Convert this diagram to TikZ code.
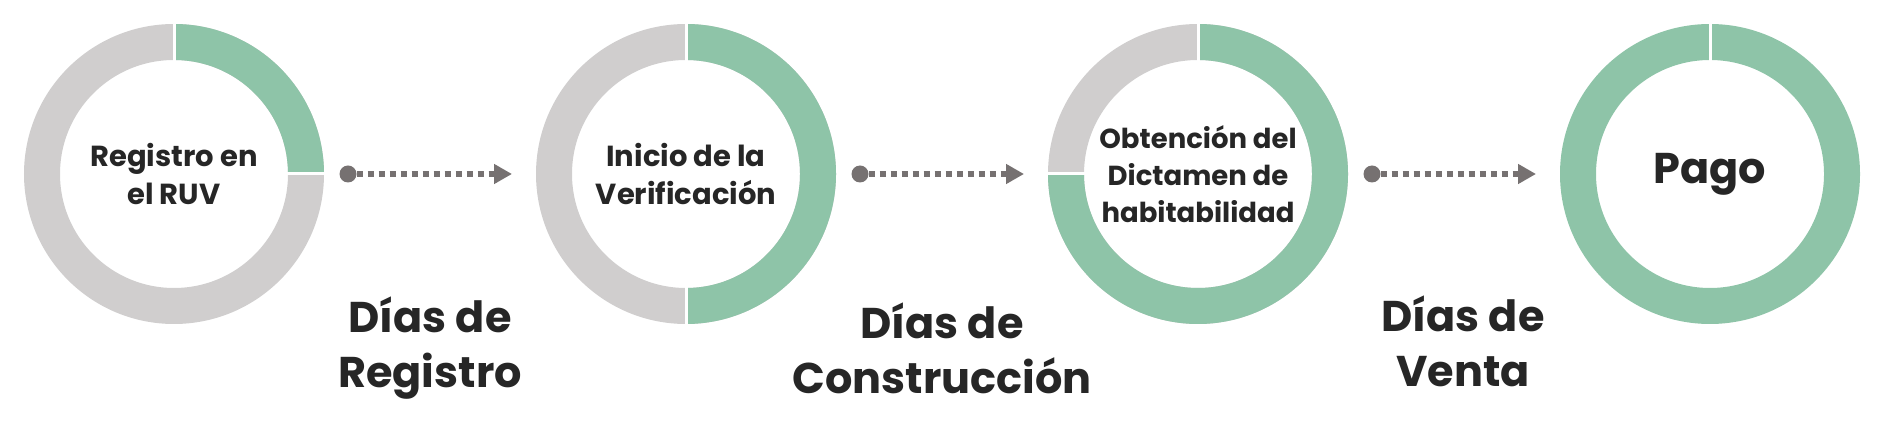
\documentclass[tikz,border=0pt]{standalone}
\usepackage{fontspec}
\setmainfont{Poppins}
\usetikzlibrary{arrows.meta}
\usetikzlibrary{positioning}

\definecolor{ringgray}{HTML}{D0CECE}
\definecolor{ringgreen}{HTML}{8EC4A8}
\definecolor{arrowgray}{HTML}{767171}
\definecolor{textdark}{HTML}{262626}

\tikzset{
	ring/.style={line width=36pt, ringgray},
	done/.style={line width=36pt, ringgreen},
	cut/.style={line width=3pt, white},
	stage/.style={align=center, text=textdark, inner sep=0pt, font=\bfseries\fontsize{29}{38.5}\selectfont},
	period/.style={align=center, text=textdark, inner sep=0pt, font=\bfseries\fontsize{43}{55}\selectfont},
	dotstart/.style={circle, fill=arrowgray, minimum size=17pt, inner sep=0pt},
	flow/.style={arrowgray, line width=6pt, dash pattern=on 6pt off 5pt, -{Triangle[length=18pt,width=19pt]}},
}

\begin{document}
\begin{tikzpicture}[x=1pt, y=1pt]
		\useasboundingbox (0,0) rectangle (1884,428);
		% etapas
		\node[stage] (s1) at (174,254) {Registro en\\el RUV};
		\node[stage] (s2) at (686,254) {Inicio de la\\Verificación};
		\node[stage, font=\bfseries\fontsize{27.5}{37}\selectfont] (s3) at (1198,254) {Obtención del\\Dictamen de\\habitabilidad};
		\node[stage, font=\bfseries\fontsize{43}{43}\selectfont] (s4) at (1710,254) {Pago};
		% anillos
		\draw[ring] (s1.center) circle[radius=132pt];
		\draw[done] (s1.center) ++(90:132pt) arc[start angle=90, end angle=0, radius=132pt];
		\draw[cut] (s1.center) ++(90:110pt) -- ++(90:44pt);
		\draw[cut] (s1.center) ++(0:110pt) -- ++(0:44pt);
		\draw[ring] (s2.center) circle[radius=132pt];
		\draw[done] (s2.center) ++(90:132pt) arc[start angle=90, end angle=-90, radius=132pt];
		\draw[cut] (s2.center) ++(90:110pt) -- ++(90:44pt);
		\draw[cut] (s2.center) ++(-90:110pt) -- ++(-90:44pt);
		\draw[ring] (s3.center) circle[radius=132pt];
		\draw[done] (s3.center) ++(90:132pt) arc[start angle=90, end angle=-180, radius=132pt];
		\draw[cut] (s3.center) ++(90:110pt) -- ++(90:44pt);
		\draw[cut] (s3.center) ++(180:110pt) -- ++(180:44pt);
		\draw[done] (s4.center) circle[radius=132pt];
		\draw[cut] (s4.center) ++(90:110pt) -- ++(90:44pt);
		% flechas
		\node[dotstart] (d1) at (348,254) {};
		\node[dotstart] (d2) at (860,254) {};
		\node[dotstart] (d3) at (1372,254) {};
		\coordinate (e1) at (512,254);
		\coordinate (e2) at (1024,254);
		\coordinate (e3) at (1536,254);
		\draw[flow] (d1) -- (e1);
		\draw[flow] (d2) -- (e2);
		\draw[flow] (d3) -- (e3);
		% periodos
		\node[period] (p1) at (430,80) {Días de\\Registro};
		\node[period] (p2) at (942,80) {Días de\\Construcción};
		\node[period] (p3) at (1463,87) {Días de\\Venta};
	\end{tikzpicture}
\end{document}
